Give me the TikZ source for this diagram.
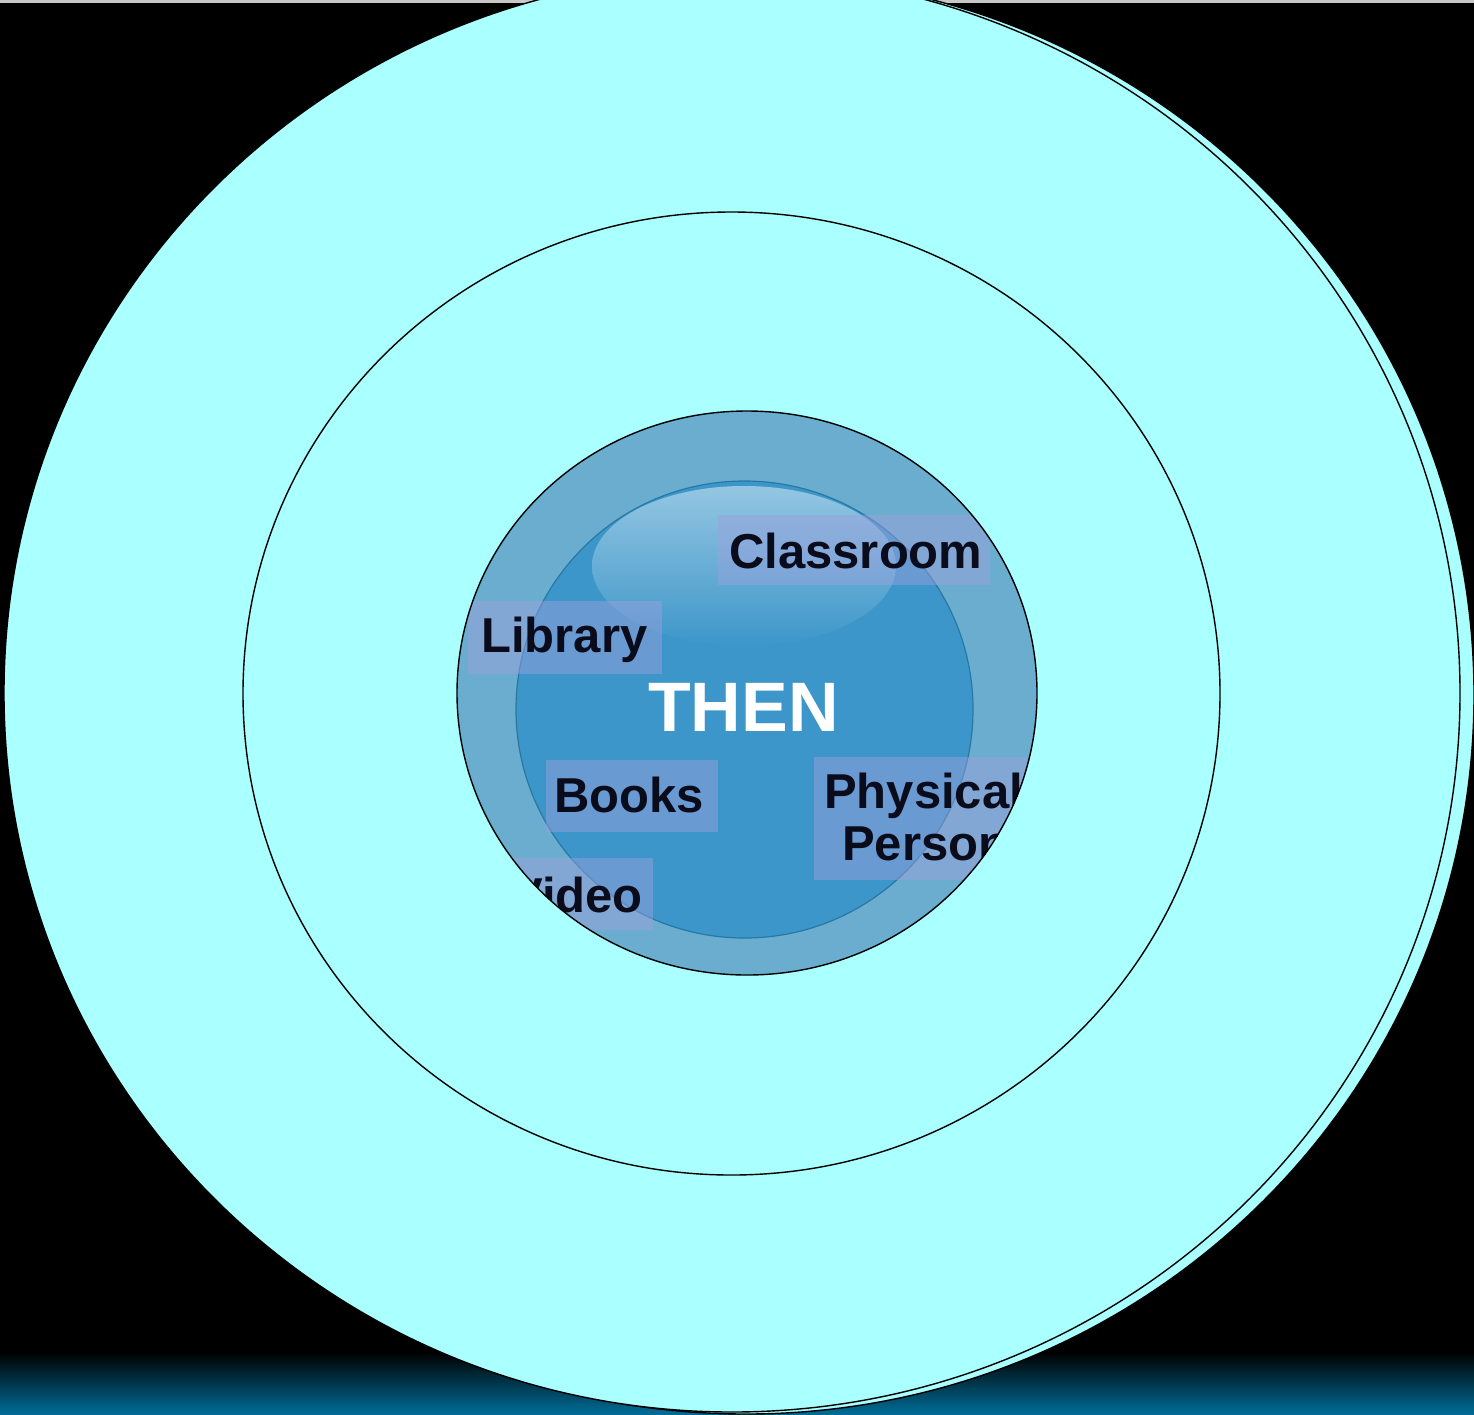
\documentclass[tikz,border=0pt]{standalone}
\usepackage{fontspec}
\setmainfont{Liberation Sans}
\begin{document}
\begin{tikzpicture}[x=1pt,y=-1pt]
\definecolor{cyanfill}{RGB}{170,255,255}
\definecolor{bottomblue}{RGB}{0,108,150}
\definecolor{topgray}{RGB}{200,200,200}
\definecolor{ringblue}{RGB}{106,173,206}
\definecolor{diskblue}{RGB}{60,150,201}
\definecolor{diskline}{RGB}{40,120,165}
\definecolor{glowblue}{RGB}{148,198,226}
\definecolor{labfill}{RGB}{160,160,222}
\tikzset{
  ring/.style={fill=cyanfill, draw=black, line width=1.4pt},
  labbox/.style={fill=labfill, fill opacity=0.45, draw=none, inner sep=0pt, rectangle},
  labtext/.style={inner sep=0pt, font=\fontsize{49}{56}\selectfont\bfseries, text={rgb,255:red,10;green,12;blue,28}},
  titletext/.style={inner sep=0pt, font=\fontsize{70}{78}\selectfont\bfseries, text=white}
}
\useasboundingbox (0,0) rectangle (1474,1414);
% background
\fill[black] (0,0) rectangle (1474,1414);
\shade[top color=black, bottom color=bottomblue] (0,1352) rectangle (1474,1414);
\fill[topgray] (0,0) rectangle (1474,2.5);
% outer circles
\draw[ring] (746,695) ellipse [x radius=728pt, y radius=719pt];
\draw[ring] (732,693) ellipse [x radius=728pt, y radius=719pt];
% middle circle
\draw[ring] (731.5,693.5) ellipse [x radius=488.5pt, y radius=481.5pt];
% inner sphere
\fill[ringblue] (747,693) ellipse [x radius=290pt, y radius=282pt];
\filldraw[fill=diskblue, draw=diskline, line width=1.2pt] (744.5,709.5) circle [radius=228.5pt];
\shade[top color=glowblue, bottom color=diskblue] (744,566) ellipse [x radius=152pt, y radius=80pt];
\begin{scope}
\clip (747,693) ellipse [x radius=290pt, y radius=282pt];
\node[labbox, minimum width=272pt, minimum height=70pt] (bclass) at (854,550) {};
\node[labbox, minimum width=194pt, minimum height=73pt] (blib) at (565,637) {};
\node[labbox, minimum width=172pt, minimum height=72pt] (bbooks) at (632,796) {};
\node[labbox, minimum width=245pt, minimum height=123pt] (bphys) at (936,818) {};
\node[labbox, minimum width=170pt, minimum height=72pt] (bvideo) at (568,894) {};
\node[labtext, anchor=base west] (tclass) at (729,568) {Classroom};
\node[labtext, anchor=base west] (tlib) at (481,652) {Library};
\node[labtext, anchor=base west] (tbooks) at (554,812) {Books};
\node[labtext, anchor=base west] (tphys) at (824,808) {Physical};
\node[labtext, anchor=base west] (tpers) at (842,860) {Person};
\node[labtext, anchor=base east] (tvideo) at (643,912) {Video};
\end{scope}
\draw[black, line width=1.4pt] (747,693) ellipse [x radius=290pt, y radius=282pt];
\node[titletext, anchor=base west] (then) at (648,731) {THEN};
\end{tikzpicture}
\end{document}
